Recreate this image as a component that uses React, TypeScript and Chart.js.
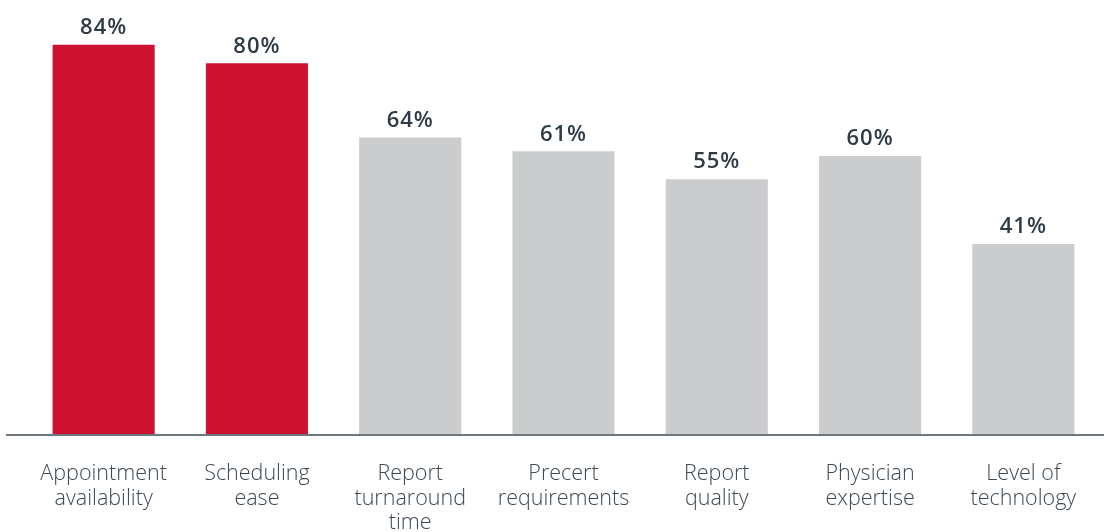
import React, { useEffect, useRef } from "react";
import { Chart, registerables } from "chart.js";

Chart.register(...registerables);

const categories: string[][] = [
  ["Appointment", "availability"],
  ["Scheduling", "ease"],
  ["Report", "turnaround", "time"],
  ["Precert", "requirements"],
  ["Report", "quality"],
  ["Physician", "expertise"],
  ["Level of", "technology"],
];
const values: number[] = [84, 80, 64, 61, 55, 60, 41];
const barColors: string[] = ["#CC1230", "#CC1230", "#CBCCCE", "#CBCCCE", "#CBCCCE", "#CBCCCE", "#CBCCCE"];

const valueLabelPlugin = {
  id: "valueLabels",
  afterDatasetsDraw(chart: any) {
    const ctx = chart.ctx;
    const meta = chart.getDatasetMeta(0);
    ctx.save();
    const yb = chart.scales.y.getPixelForValue(0);
    ctx.strokeStyle = "#6E767E";
    ctx.lineWidth = 2;
    ctx.beginPath();
    ctx.moveTo(6, yb + 1);
    ctx.lineTo(chart.width, yb + 1);
    ctx.stroke();
    ctx.fillStyle = "#2E3A45";
    ctx.font = "600 22px 'Open Sans'";
    try { (ctx as any).letterSpacing = "1px"; } catch (e) {}
    ctx.textAlign = "center";
    ctx.textBaseline = "middle";
    meta.data.forEach((bar: any, i: number) => {
      ctx.fillText(values[i] + "%", bar.x, bar.y - 17);
    });
    ctx.restore();
  },
};

export default function App() {
  const ref = useRef<HTMLCanvasElement | null>(null);
  useEffect(() => {
    if (!ref.current) return;
    const chart = new Chart(ref.current, {
      type: "bar",
      data: {
        labels: categories,
        datasets: [
          {
            data: values,
            backgroundColor: barColors,
            borderWidth: 0,
            barPercentage: 0.666,
            categoryPercentage: 1,
          },
        ],
      },
      options: {
        animation: false,
        responsive: false,
        maintainAspectRatio: false,
        layout: { padding: { top: 17, left: 27, right: 4, bottom: 0 } },
        plugins: { legend: { display: false }, tooltip: { enabled: false } },
        scales: {
          x: {
            grid: { display: false, drawTicks: false },
            border: { display: false },
            ticks: {
              color: "#3C4852",
              font: { family: "'Open Sans'", size: 21.5, weight: 300, lineHeight: 1.16 } as any,
              padding: 27,
              maxRotation: 0,
              autoSkip: false,
            },
            afterFit(scale: any) {
              scale.height = 98;
            },
          },
          y: {
            display: false,
            min: 0,
            max: 90,
          },
        },
      },
      plugins: [valueLabelPlugin],
    });
    return () => chart.destroy();
  }, []);
  return (
    <div style={{ position: "absolute", left: 0, top: 0, width: 1104, height: 532, background: "#fff" }}>
      <canvas ref={ref} width={1104} height={532} />
    </div>
  );
}
